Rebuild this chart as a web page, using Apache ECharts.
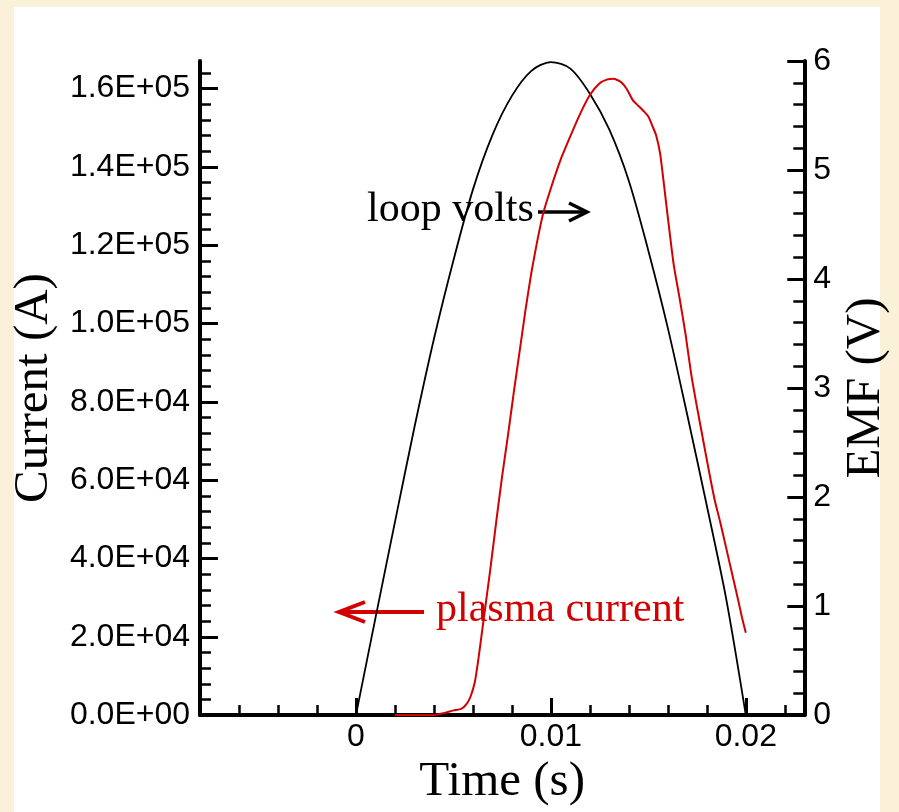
<!DOCTYPE html>
<html>
<head>
<meta charset="utf-8">
<script src="https://cdn.jsdelivr.net/npm/echarts@6/dist/echarts.min.js"></script>
<style>
  html, body { margin: 0; padding: 0; background: #fbf0d8; }
  #chart { width: 899px; height: 812px; }
</style>
</head>
<body>
<div id="chart"></div>
<script>
// Plasma current (A) against time (s)
const currentTime = [0.0020, 0.0040, 0.0045, 0.0050, 0.0054, 0.0057, 0.0059, 0.0061, 0.0063, 0.0065,
  0.0067, 0.0069, 0.0072, 0.0075, 0.0078, 0.0081, 0.0084, 0.0087, 0.0090, 0.0093,
  0.0096, 0.0100, 0.0105, 0.0110, 0.0115, 0.0120, 0.0125, 0.0129, 0.0132, 0.0136,
  0.0139, 0.0142, 0.0145, 0.0148, 0.0150, 0.0152, 0.0154, 0.0156, 0.0158, 0.0160,
  0.0163, 0.0166, 0.0169, 0.0172, 0.0175, 0.0178, 0.0181, 0.0184, 0.0187, 0.0190,
  0.0193, 0.0196, 0.0198, 0.0200];
const currentAmps = [0, 0, 500, 1200, 1600, 3000, 5000, 8500, 15000, 22500,
  30000, 37500, 49500, 61000, 71500, 82500, 93000, 103500, 113000, 121000,
  128000, 134500, 141800, 147800, 153500, 158300, 161300, 162300, 162500, 161600,
  159800, 157000, 155500, 154000, 152800, 150500, 148000, 143500, 135500, 127000,
  115000, 106500, 97500, 87000, 78500, 70500, 62500, 55000, 49000, 42500,
  36000, 29500, 25000, 21000];

// Loop voltage (V) against time (s)
const emfTime = [0, 0.0010, 0.0020, 0.0030, 0.0040, 0.0050, 0.0060, 0.0070,
  0.0080, 0.0090, 0.0100, 0.0110, 0.0120, 0.0130, 0.0140, 0.0150, 0.0160, 0.0170,
  0.0180, 0.0190, 0.0200];
const emfVolts = [0, 0.89, 1.77, 2.64, 3.45, 4.17, 4.82, 5.32,
  5.68, 5.91, 5.99, 5.93, 5.70, 5.37, 4.90, 4.26, 3.55, 2.75,
  1.92, 1.06, 0];

// Axis ticks
const timeTicks = [0, 0.01, 0.02];
const timeMinorTicks = [-0.006, -0.004, -0.002, 0.002, 0.004, 0.006, 0.008,
  0.012, 0.014, 0.016, 0.018, 0.022];
const currentTicks = [0, 20000, 40000, 60000, 80000, 100000, 120000, 140000, 160000];
const currentMinorTicks = [4000, 8000, 12000, 16000, 24000, 28000, 32000, 36000,
  44000, 48000, 52000, 56000, 64000, 68000, 72000, 76000, 84000, 88000, 92000, 96000,
  104000, 108000, 112000, 116000, 124000, 128000, 132000, 136000, 144000, 148000,
  152000, 156000, 164000];
const emfTicks = [0, 1, 2, 3, 4, 5, 6];
const emfMinorTicks = [0.2, 0.4, 0.6, 0.8, 1.2, 1.4, 1.6, 1.8, 2.2, 2.4, 2.6, 2.8,
  3.2, 3.4, 3.6, 3.8, 4.2, 4.4, 4.6, 4.8, 5.2, 5.4, 5.6, 5.8];

const TIME_MIN = -0.008, TIME_MAX = 0.023;
const CURRENT_MAX = 167000;
const EMF_MAX = 6;

const RED = '#d20000';
const SANS = 'Liberation Sans';
const SERIF = 'Liberation Serif';

function sci(v) {
  if (v === 0) return '0.0E+00';
  const e = Math.floor(Math.log10(v) + 1e-9);
  const m = v / Math.pow(10, e);
  return m.toFixed(1) + 'E+' + String(e).padStart(2, '0');
}

const pairs = (xs, ys) => xs.map((x, i) => [x, ys[i]]);

const axisLine = { show: true, onZero: false, lineStyle: { color: '#000', width: 4 } };
const hiddenLine = { show: false, onZero: false };
const labelStyle = { color: '#000', fontFamily: SANS, fontSize: 32 };
const nameStyle = { color: '#000', fontFamily: SERIF, fontSize: 49 };

const chart = echarts.init(document.getElementById('chart'));
chart.setOption({
  animation: false,
  backgroundColor: 'transparent',
  grid: { left: 200, right: 80, top: 61, bottom: 83, containLabel: false },
  xAxis: [
    {
      type: 'value', min: TIME_MIN, max: TIME_MAX, position: 'bottom',
      name: 'Time (s)', nameLocation: 'middle', nameGap: 35, nameTextStyle: nameStyle,
      axisLine: axisLine,
      axisTick: { show: true, inside: true, length: 17, customValues: timeTicks,
        lineStyle: { color: '#000', width: 3 } },
      axisLabel: Object.assign({ margin: 6, customValues: timeTicks,
        formatter: v => String(v) }, labelStyle),
      splitLine: { show: false }
    },
    {
      type: 'value', min: TIME_MIN, max: TIME_MAX, position: 'bottom',
      axisLine: hiddenLine,
      axisTick: { show: true, inside: true, length: 10, customValues: timeMinorTicks,
        lineStyle: { color: '#000', width: 2.5 } },
      axisLabel: { show: false },
      splitLine: { show: false }
    }
  ],
  yAxis: [
    {
      type: 'value', position: 'left', min: 0, max: CURRENT_MAX,
      name: 'Current (A)', nameLocation: 'middle', nameGap: 133, nameTextStyle: nameStyle,
      axisLine: axisLine,
      axisTick: { show: true, inside: true, length: 18, customValues: currentTicks,
        lineStyle: { color: '#000', width: 3 } },
      axisLabel: Object.assign({ margin: 10, customValues: currentTicks, formatter: sci }, labelStyle),
      splitLine: { show: false }
    },
    {
      type: 'value', position: 'right', min: 0, max: EMF_MAX,
      name: 'EMF (V)', nameLocation: 'middle', nameGap: 28, nameTextStyle: nameStyle,
      axisLine: axisLine,
      axisTick: { show: true, inside: true, length: 17, customValues: emfTicks,
        lineStyle: { color: '#000', width: 3 } },
      axisLabel: Object.assign({ margin: 9, customValues: emfTicks,
        formatter: v => String(v) }, labelStyle),
      splitLine: { show: false }
    },
    {
      type: 'value', position: 'left', min: 0, max: CURRENT_MAX,
      axisLine: hiddenLine,
      axisTick: { show: true, inside: true, length: 11, customValues: currentMinorTicks,
        lineStyle: { color: '#000', width: 2.5 } },
      axisLabel: { show: false },
      splitLine: { show: false }
    },
    {
      type: 'value', position: 'right', min: 0, max: EMF_MAX,
      axisLine: hiddenLine,
      axisTick: { show: true, inside: true, length: 11, customValues: emfMinorTicks,
        lineStyle: { color: '#000', width: 2.5 } },
      axisLabel: { show: false },
      splitLine: { show: false }
    }
  ],
  series: [
    {
      name: 'loop volts', type: 'line', xAxisIndex: 0, yAxisIndex: 1,
      data: pairs(emfTime, emfVolts), smooth: 0.3,
      showSymbol: false, lineStyle: { color: '#000', width: 1.8 }, z: 3
    },
    {
      name: 'plasma current', type: 'line', xAxisIndex: 0, yAxisIndex: 0,
      data: pairs(currentTime, currentAmps), smooth: 0.2,
      showSymbol: false, lineStyle: { color: RED, width: 2 }, z: 4
    }
  ],
  graphic: [
    { type: 'rect', z: -10, silent: true,
      shape: { x: 14, y: 7, width: 866, height: 806 }, style: { fill: '#ffffff' } },
    { type: 'text', z: 10, left: 367, top: 189,
      style: { text: 'loop volts', fill: '#000', font: '42px "Liberation Serif"' } },
    { type: 'group', z: 10, children: [
      { type: 'line', shape: { x1: 538, y1: 212, x2: 587, y2: 212 },
        style: { stroke: '#000', lineWidth: 3.5 } },
      { type: 'polyline', shape: { points: [[569, 203], [587, 212], [569, 221]] },
        style: { stroke: '#000', lineWidth: 3.5, fill: null } }
    ]},
    { type: 'text', z: 10, left: 436, top: 589,
      style: { text: 'plasma current', fill: RED, font: '42px "Liberation Serif"' } },
    { type: 'group', z: 10, children: [
      { type: 'line', shape: { x1: 424, y1: 612, x2: 339, y2: 612 },
        style: { stroke: RED, lineWidth: 4 } },
      { type: 'polyline', shape: { points: [[365, 602], [339, 612], [365, 622]] },
        style: { stroke: RED, lineWidth: 4, fill: null } }
    ]}
  ]
});
</script>
</body>
</html>
